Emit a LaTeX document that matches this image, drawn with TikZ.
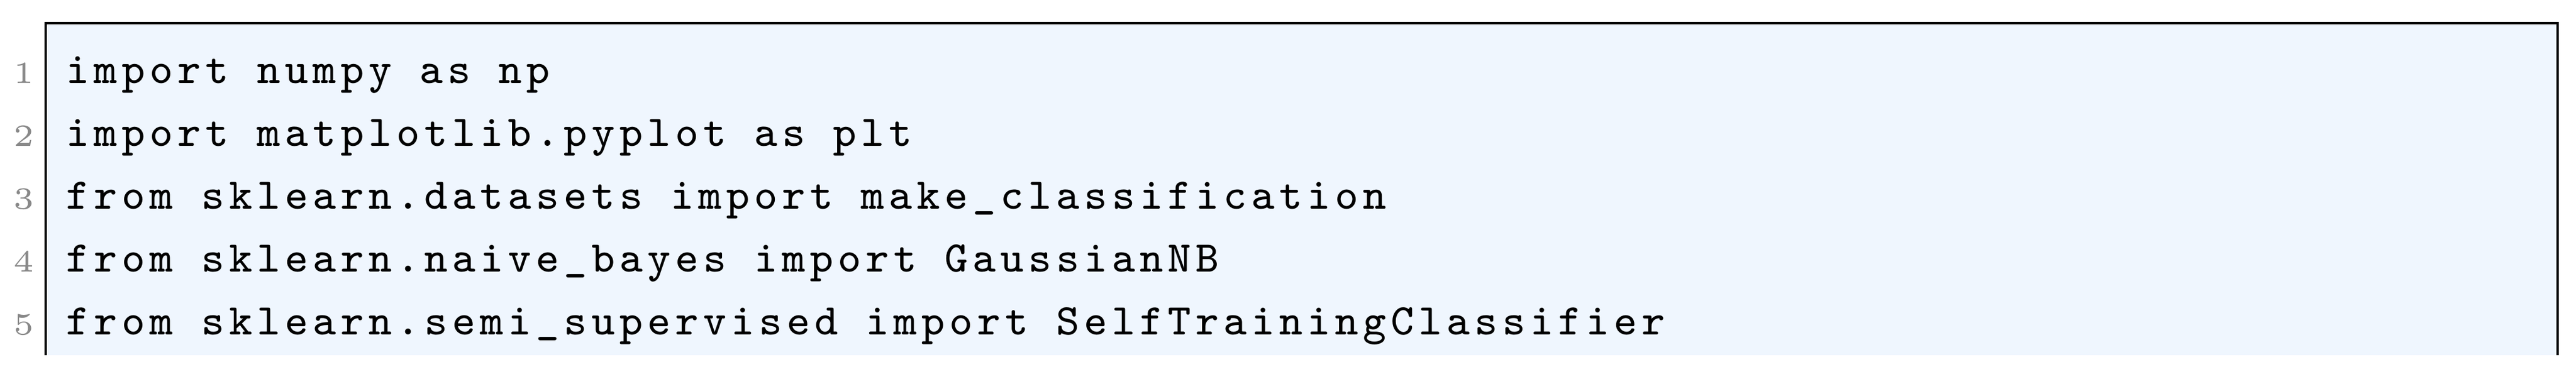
\documentclass[tikz,border=0pt]{standalone}
\usepackage{fontspec}
\newfontfamily\codefont[LetterSpace=10.4]{Latin Modern Mono}
\usetikzlibrary{positioning}
\definecolor{codebg}{RGB}{239,246,254}
\definecolor{numgray}{RGB}{136,136,136}

\begin{document}
\begin{tikzpicture}[x=1pt,y=1pt,
    code/.style={anchor=base west, inner sep=0pt,
                 font=\codefont\fontsize{7.4}{8}\selectfont},
    num/.style={anchor=base east, inner sep=0pt, text=numgray,
                font=\fontsize{5.2}{6}\selectfont}]
  \useasboundingbox (0,0) rectangle (434.2,-65.5);
  \fill[codebg] (7.7,-3.9) rectangle (431.1,-59.9);
  \draw[line width=0.4pt] (7.7,-59.9) -- (7.7,-3.9) -- (431.1,-3.9) -- (431.1,-59.9);
  \node (l1) [code] at (11.0,-14.0) {import numpy as np};
  \node (l2) [code] at ([yshift=-10.6pt]l1.base west) {import matplotlib.pyplot as plt};
  \node (l3) [code] at ([yshift=-10.6pt]l2.base west) {from sklearn.datasets import make\_classification};
  \node (l4) [code] at ([yshift=-10.6pt]l3.base west) {from sklearn.naive\_bayes import GaussianNB};
  \node (l5) [code] at ([yshift=-10.6pt]l4.base west) {from sklearn.semi\_supervised import SelfTrainingClassifier};
  \node (n1) [num] at ([xshift=-5.0pt]l1.base west) {1};
  \node (n2) [num] at ([xshift=-5.0pt]l2.base west) {2};
  \node (n3) [num] at ([xshift=-5.0pt]l3.base west) {3};
  \node (n4) [num] at ([xshift=-5.0pt]l4.base west) {4};
  \node (n5) [num] at ([xshift=-5.0pt]l5.base west) {5};
\end{tikzpicture}
\end{document}
